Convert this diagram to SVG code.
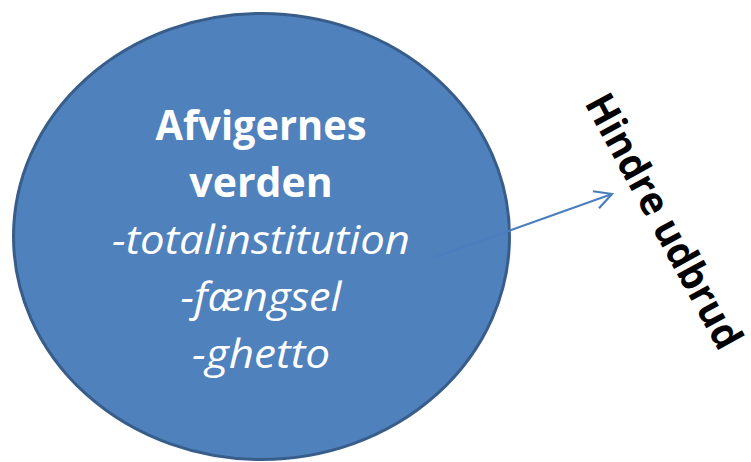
<svg xmlns="http://www.w3.org/2000/svg" width="751" height="462" viewBox="0 0 751 462">
  <style>
    .node-shape { fill: #4F81BD; stroke: #385D8A; stroke-width: 3; }
    .title { font-family: "Open Sans", "Liberation Sans", sans-serif; font-weight: bold; font-size: 41px; fill: #FFFFFF; text-anchor: middle; }
    .item { font-family: "Open Sans", "Liberation Sans", sans-serif; font-style: italic; font-size: 41px; fill: #FFFFFF; text-anchor: middle; }
    .label { font-family: "Open Sans", "Liberation Sans", sans-serif; font-weight: bold; font-size: 40px; fill: #000000; text-anchor: middle; }
    .conn { fill: none; stroke: #4A7EBE; stroke-width: 2; }
  </style>
  <defs>
    <marker id="openArrow" markerUnits="userSpaceOnUse" markerWidth="24" markerHeight="24" refX="19" refY="10" orient="auto" viewBox="0 0 24 20">
      <path d="M2,1 L19,10 L2,19" fill="none" stroke="#4A7EBE" stroke-width="2.2"/>
    </marker>
  </defs>
  <g id="node-afvigernes">
    <ellipse class="node-shape" cx="261.5" cy="236.5" rx="248" ry="223"/>
    <text class="title" x="261" y="140" textLength="211" lengthAdjust="spacingAndGlyphs">Afvigernes</text>
    <text class="title" x="261" y="197">verden</text>
    <text class="item" x="261" y="254" textLength="298" lengthAdjust="spacingAndGlyphs">-totalinstitution</text>
    <text class="item" x="261" y="311" textLength="161" lengthAdjust="spacingAndGlyphs">-fængsel</text>
    <text class="item" x="261" y="368" textLength="138" lengthAdjust="spacingAndGlyphs">-ghetto</text>
  </g>
  <g id="node-hindre">
    <text class="label" transform="translate(664,221) rotate(61.5)" x="0" y="14" textLength="284" lengthAdjust="spacingAndGlyphs">Hindre udbrud</text>
  </g>
  <g id="connectors">
    <path class="conn" d="M433,258 L612,194" marker-end="url(#openArrow)"/>
  </g>
</svg>
